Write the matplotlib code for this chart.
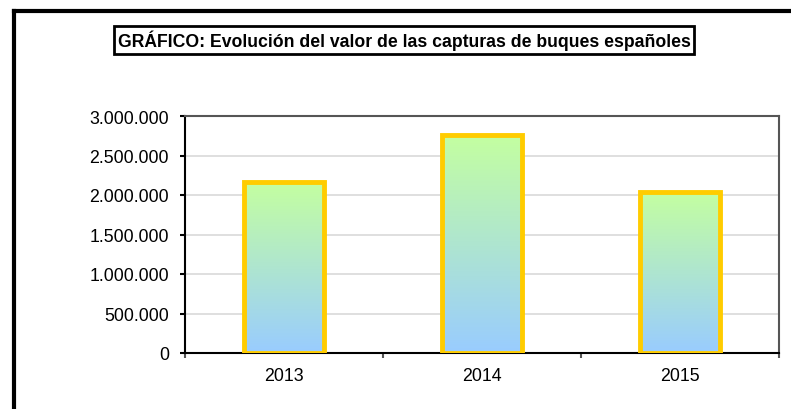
import matplotlib.pyplot as plt
import numpy as np
from matplotlib.colors import LinearSegmentedColormap
from matplotlib.lines import Line2D

plt.rcParams['font.family'] = ['Liberation Sans', 'DejaVu Sans']

years = ['2013', '2014', '2015']
valores = [2160000, 2760000, 2040000]
y_ticks = [0, 500000, 1000000, 1500000, 2000000, 2500000, 3000000]
titulo = 'GRÁFICO: Evolución del valor de las capturas de buques españoles'

W, H = 791, 410
fig = plt.figure(figsize=(W / 100, H / 100), dpi=100)
ax = fig.add_axes([185 / W, 1 - 354 / H, (779 - 185) / W, (354 - 117) / H])

# outer frame (only top and left visible)
fig.add_artist(Line2D([14 / W, 1.0], [1 - 12 / H, 1 - 12 / H], color='black', lw=3))
fig.add_artist(Line2D([14 / W, 14 / W], [0, 1 - 12 / H], color='black', lw=3))

# title box
fig.text(404 / W, 1 - 41 / H, titulo, ha='center', va='center', fontsize=12.7,
         fontweight='bold',
         bbox=dict(boxstyle='square,pad=0.2', fc='white', ec='black', lw=2))

x = np.arange(len(years))
bars = ax.bar(x, valores, width=0.4, color='none', edgecolor='#FFCC00', linewidth=3.5, zorder=3)

cmap = LinearSegmentedColormap.from_list('g', ['#99CCFF', '#C4FFA0'])
grad = np.linspace(0, 1, 256).reshape(-1, 1)
for b in bars:
    x0, y0 = b.get_x(), b.get_y()
    im = ax.imshow(grad, cmap=cmap, origin='lower', aspect='auto',
                   extent=[x0, x0 + b.get_width(), y0, y0 + b.get_height()], zorder=2)
    im.set_clip_path(b)

ax.set_xlim(-0.5, 2.5)
ax.set_ylim(0, 3000000)
ax.set_yticks(y_ticks)
ax.set_yticklabels([f'{v:,}'.replace(',', '.') for v in y_ticks], fontsize=12.8)
ax.yaxis.grid(True, color='#D9D9D9', lw=1.2, zorder=0)
ax.set_axisbelow(True)

ax.set_xticks([-0.5, 0.5, 1.5, 2.5])
ax.set_xticklabels([])
ax.set_xticks(x, minor=True)
ax.set_xticklabels(years, minor=True, fontsize=12.8)
ax.tick_params(axis='x', which='minor', length=0, pad=10)
ax.tick_params(axis='x', which='major', length=3.6, width=1.5, color='#555555')
ax.tick_params(axis='y', length=3.6, width=1.5, pad=8)

for s in ['left', 'bottom']:
    ax.spines[s].set_color('black')
    ax.spines[s].set_linewidth(1.5)
for s in ['top', 'right']:
    ax.spines[s].set_color('#555555')
    ax.spines[s].set_linewidth(1.5)

fig.savefig('out.png', dpi=100)
